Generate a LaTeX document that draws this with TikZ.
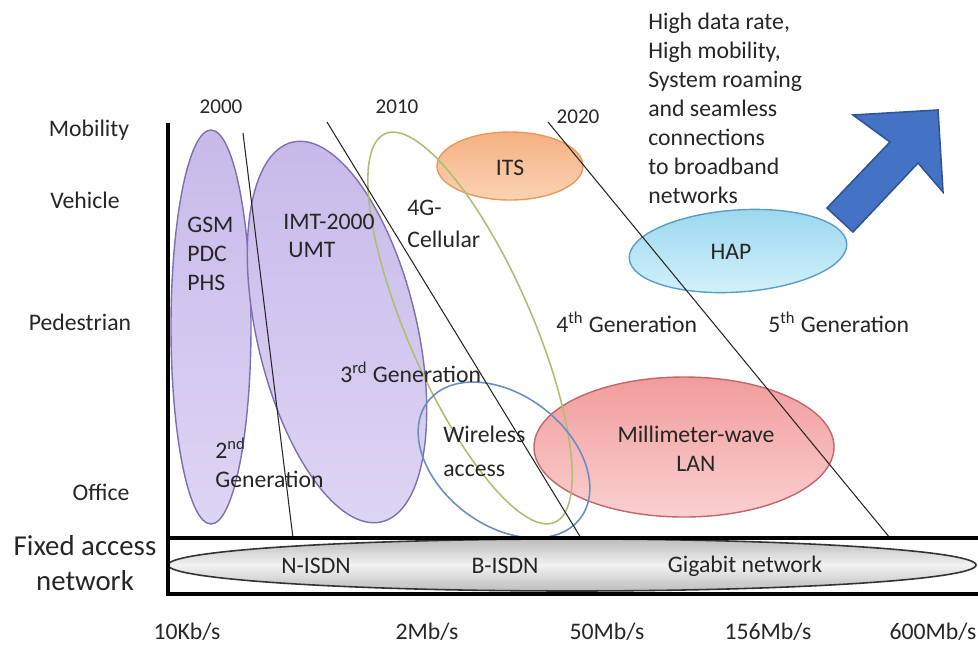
\documentclass[tikz,border=0pt]{standalone}
\usepackage{fontspec}
\setmainfont{Carlito}
\usepackage{xcolor}
\usepackage{tikz}
\definecolor{lavender}{HTML}{C7BAEA}
\definecolor{lavenderlight}{HTML}{DDD5F4}
\definecolor{lavenderedge}{HTML}{7D70AE}
\definecolor{cellgreen}{HTML}{AEBF73}
\definecolor{wlanblue}{HTML}{6C8EBF}
\definecolor{itsorange}{HTML}{F6B182}
\definecolor{itslight}{HTML}{FBD3B3}
\definecolor{itsedge}{HTML}{E89A5C}
\definecolor{hapcyan}{HTML}{9CD8EF}
\definecolor{haplight}{HTML}{D4F2FB}
\definecolor{hapedge}{HTML}{5A9EC4}
\definecolor{mmwpink}{HTML}{F29C9C}
\definecolor{mmwlight}{HTML}{F9D0D0}
\definecolor{mmwedge}{HTML}{C0676A}
\definecolor{fixedgray}{HTML}{BDBDBD}
\definecolor{fixedlight}{HTML}{F2F2F2}
\definecolor{arrowblue}{HTML}{4472C4}
\definecolor{arrowedge}{HTML}{2F5597}
\tikzset{
  txt/.style={font=\fontsize{13.5}{16.5}\selectfont, text=black!85, inner sep=0pt},
  yeartxt/.style={txt, font=\fontsize{12}{14}\selectfont},
  bigtxt/.style={txt, font=\fontsize{16.4}{19.5}\selectfont, align=center},
  axisline/.style={line width=1.8pt, black},
  yearline/.style={line width=0.6pt, black!85},
  gen2area/.style={draw=lavenderedge, line width=0.8pt,
                   top color=lavender, bottom color=lavenderlight},
  itsarea/.style={draw=itsedge, line width=0.8pt,
                  top color=itsorange, bottom color=itslight},
  haparea/.style={draw=hapedge, line width=0.8pt,
                  top color=hapcyan, bottom color=haplight},
  mmwarea/.style={draw=mmwedge, line width=0.8pt,
                  top color=mmwpink, bottom color=mmwlight},
  fixedarea/.style={draw=black!80, line width=0.9pt,
                    top color=fixedgray, bottom color=fixedgray,
                    middle color=fixedlight},
  cellring/.style={draw=cellgreen, line width=0.9pt},
  wlanring/.style={draw=wlanblue, line width=0.9pt},
  bigarrow/.style={draw=arrowedge, line width=0.9pt, fill=arrowblue},
}

\begin{document}
\begin{tikzpicture}[x=0.2mm, y=-0.2mm]
  \useasboundingbox (0,0) rectangle (978,644);

  % Coverage areas
  \draw[gen2area] (211,327) ellipse [x radius=40, y radius=197];
  \draw[gen2area, rotate around={13.2:(337,332)}] (337,332) ellipse [x radius=80, y radius=195];
  \draw[mmwarea] (684,447) ellipse [x radius=150, y radius=70];
  \draw[itsarea] (510,166) ellipse [x radius=73, y radius=34];
  \draw[haparea, rotate around={4:(738,251)}] (738,251) ellipse [x radius=109, y radius=41];
  \draw[fixedarea] (572,565) ellipse [x radius=404, y radius=26];
  \draw[cellring, rotate around={23.6:(470,328)}] (470,328) ellipse [x radius=62, y radius=212];
  \draw[wlanring, rotate around={-37.5:(504,460)}] (504,460) ellipse [x radius=96, y radius=65];

  % Generation borders
  \coordinate (y2000top) at (243,133);
  \coordinate (y2000bot) at (293,538);
  \coordinate (y2010top) at (327,122);
  \coordinate (y2010bot) at (581,538);
  \coordinate (y2020top) at (548,122);
  \coordinate (y2020bot) at (890,538);
  \draw[yearline] (y2000top) -- (y2000bot);
  \draw[yearline] (y2010top) -- (y2010bot);
  \draw[yearline] (y2020top) -- (y2020bot);

  % Axes and fixed access band
  \coordinate (origin) at (168,594);
  \coordinate (ytop)   at (168,123);
  \coordinate (bandl)  at (168,538);
  \coordinate (bandr)  at (978,538);
  \coordinate (baser)  at (978,594);
  \draw[axisline] (ytop) -- (origin) -- (baser);
  \draw[axisline] (bandl) -- (bandr);

  % Trend arrow
  \draw[bigarrow] (938,110) -- (943,192) -- (918,163) -- (853,232)
    -- (827,208) -- (890,142) -- (853,115) -- cycle;

  % Mobility levels
  \node[txt] (mobility)   at (89,130) {Mobility};
  \node[txt] (vehicle)    at (85,200) {Vehicle};
  \node[txt] (pedestrian) at (80,322) {Pedestrian};
  \node[txt] (office)     at (101,492) {Office};
  \node[bigtxt] (fixed)   at (85,563) {Fixed access\\network};

  % Years
  \node[yeartxt] (y2000) at (221,107) {2000};
  \node[yeartxt] (y2010) at (397,107) {2010};
  \node[yeartxt] (y2020) at (578,117) {2020};

  % Systems
  \node[txt, align=left, anchor=west] (gsm) at (187,254) {GSM\\PDC\\PHS};
  \node[txt, anchor=west] (imt) at (283,222) {IMT-2000};
  \node[txt, anchor=west] (umt) at (288,250) {UMT};
  \node[txt, align=left, anchor=west] (cell4g) at (407,224) {4G-\\[2pt]Cellular};
  \node[txt] (its) at (510,168) {ITS};
  \node[txt] (hap) at (731,252) {HAP};
  \node[txt, align=left, anchor=west] (wireless) at (443,451) {Wireless\\[3pt]access};
  \node[txt, align=center] (mmw) at (696,449) {Millimeter-wave\\LAN};

  % Generations
  \node[txt, align=left, anchor=west] (gen2) at (215,463) {2\textsuperscript{nd}\\Generation};
  \node[txt, anchor=west] (gen3) at (340,372) {3\textsuperscript{rd} Generation};
  \node[txt, anchor=west] (gen4) at (556,322) {4\textsuperscript{th} Generation};
  \node[txt, anchor=west] (gen5) at (768,322) {5\textsuperscript{th} Generation};
  \node[txt, align=left, anchor=west] (goals) at (648,108)
    {High data rate,\\High mobility,\\System roaming\\and seamless\\connections\\to broadband\\networks};

  % Fixed networks
  \node[txt] (nisdn)   at (316,566) {N-ISDN};
  \node[txt] (bisdn)   at (505,566) {B-ISDN};
  \node[txt] (gigabit) at (745,566) {Gigabit network};

  % Data rates
  \node[txt] (r10k)  at (187,632) {10Kb/s};
  \node[txt] (r2m)   at (427,632) {2Mb/s};
  \node[txt] (r50m)  at (607,632) {50Mb/s};
  \node[txt] (r156m) at (768,632) {156Mb/s};
  \node[txt] (r600m) at (933,632) {600Mb/s};
\end{tikzpicture}
\end{document}
